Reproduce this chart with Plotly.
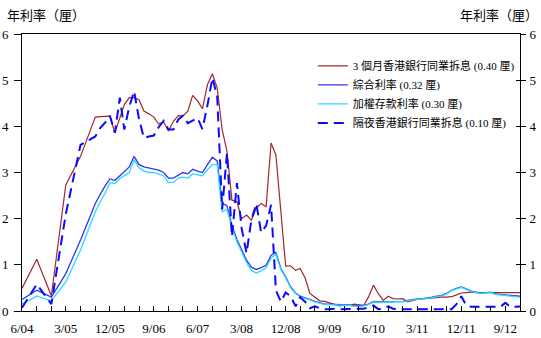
import pandas as pd
import plotly.graph_objects as go

# x positions: quarterly at the start, monthly from Sep 2005 to Dec 2012
early_dates = ["2004-06-01", "2004-09-01", "2004-12-01", "2005-03-01", "2005-06-01"]
monthly_dates = [d.strftime("%Y-%m-%d") for d in pd.date_range("2005-09-01", "2012-12-01", freq="MS")]
dates = early_dates + monthly_dates

hibor_3m = [0.49, 1.12, 0.33, 2.73, 3.35,
            4.20, 4.21, 4.22, 4.22, 3.86, 4.18, 4.47, 4.62, 4.62, 4.57,
            4.33, 4.27, 4.20, 4.05, 4.10, 3.90, 4.11, 4.23, 4.22, 4.33,
            4.67, 4.55, 4.38, 4.90, 5.14, 4.83, 3.93, 3.46, 2.40, 2.37,
            2.00, 2.08, 1.97, 2.23, 2.33, 2.26, 3.64, 3.38, 2.10, 0.97,
            0.98, 0.88, 0.92, 0.72, 0.38, 0.29, 0.22, 0.21, 0.18, 0.15,
            0.11, 0.12, 0.12, 0.15, 0.14, 0.12, 0.30, 0.56, 0.38, 0.23,
            0.32, 0.27, 0.26, 0.27, 0.20, 0.23, 0.25, 0.26, 0.27, 0.29,
            0.30, 0.30, 0.30, 0.31, 0.35, 0.39, 0.40, 0.41, 0.40, 0.40,
            0.40, 0.40, 0.40, 0.40, 0.40, 0.40, 0.40, 0.40]

composite = [0.25, 0.45, 0.30, 0.81, 1.54,
             2.33, 2.52, 2.71, 2.86, 2.83, 2.93, 3.02, 3.12, 3.35, 3.17,
             3.12, 3.10, 3.08, 3.05, 3.00, 2.88, 2.88, 2.95, 3.00, 2.97,
             3.07, 3.03, 3.00, 3.17, 3.33, 3.25, 2.33, 2.28, 1.85, 1.55,
             1.32, 1.10, 0.95, 0.90, 0.94, 0.99, 1.21, 1.27, 0.92, 0.74,
             0.52, 0.39, 0.32, 0.29, 0.25, 0.21, 0.18, 0.15, 0.15, 0.14,
             0.14, 0.13, 0.13, 0.11, 0.11, 0.12, 0.15, 0.20, 0.20, 0.20,
             0.20, 0.20, 0.21, 0.21, 0.23, 0.25, 0.26, 0.27, 0.28, 0.30,
             0.32, 0.34, 0.38, 0.45, 0.49, 0.52, 0.48, 0.43, 0.41, 0.39,
             0.40, 0.41, 0.37, 0.36, 0.35, 0.34, 0.33, 0.32]

weighted_deposit = [0.15, 0.32, 0.22, 0.63, 1.32,
                    2.15, 2.36, 2.55, 2.78, 2.76, 2.87, 2.93, 3.00, 3.28, 3.10,
                    3.03, 3.00, 3.00, 2.97, 2.93, 2.78, 2.79, 2.88, 2.90, 2.88,
                    2.97, 2.95, 2.93, 3.06, 3.17, 3.17, 2.15, 2.20, 1.80, 1.50,
                    1.28, 1.05, 0.88, 0.82, 0.87, 0.94, 1.14, 1.23, 0.90, 0.72,
                    0.50, 0.38, 0.31, 0.28, 0.24, 0.20, 0.17, 0.14, 0.14, 0.13,
                    0.13, 0.12, 0.12, 0.10, 0.10, 0.11, 0.14, 0.19, 0.19, 0.19,
                    0.19, 0.19, 0.20, 0.20, 0.22, 0.24, 0.25, 0.26, 0.27, 0.29,
                    0.31, 0.33, 0.37, 0.44, 0.48, 0.51, 0.47, 0.42, 0.40, 0.38,
                    0.39, 0.40, 0.36, 0.35, 0.34, 0.33, 0.31, 0.30]

hibor_overnight = [0.07, 0.58, 0.15, 2.10, 3.60,
                   3.78, 3.96, 4.08, 4.23, 3.86, 4.62, 3.93, 4.43, 4.76, 4.15,
                   3.75, 3.78, 3.80, 3.98, 4.12, 3.93, 3.93, 4.15, 4.23, 4.07,
                   4.12, 4.18, 3.94, 4.45, 5.05, 4.65, 2.20, 3.42, 1.61, 2.77,
                   1.80, 1.25, 1.97, 2.33, 1.70, 1.85, 2.30, 0.45, 0.20, 0.40,
                   0.32, 0.10, 0.30, 0.20, 0.06, 0.10, 0.06, 0.04, 0.04, 0.05,
                   0.04, 0.04, 0.04, 0.04, 0.04, 0.05, 0.08, 0.12, 0.04, 0.05,
                   0.10, 0.05, 0.04, 0.04, 0.04, 0.04, 0.04, 0.04, 0.04, 0.04,
                   0.04, 0.04, 0.04, 0.04, 0.15, 0.32, 0.12, 0.09, 0.09, 0.09,
                   0.09, 0.09, 0.09, 0.09, 0.18, 0.09, 0.09, 0.10]

series_names = ["3 個月香港銀行同業拆息 (0.40 厘)", "綜合利率 (0.32 厘)",
                "加權存款利率 (0.30 厘)", "隔夜香港銀行同業拆息 (0.10 厘)"]

tick_dates = ["2004-06-01", "2005-03-01", "2005-12-01", "2006-09-01", "2007-06-01", "2008-03-01",
              "2008-12-01", "2009-09-01", "2010-06-01", "2011-03-01", "2011-12-01", "2012-09-01"]
tick_labels = ["6/04", "3/05", "12/05", "9/06", "6/07", "3/08",
               "12/08", "9/09", "6/10", "3/11", "12/11", "9/12"]
y_ticks = [0, 1, 2, 3, 4, 5, 6]
axis_title = "年利率（厘）"

fig = go.Figure()
fig.add_trace(go.Scatter(x=dates, y=hibor_3m, name=series_names[0], mode="lines",
                         line=dict(color="#A02830", width=1.2)))
fig.add_trace(go.Scatter(x=dates, y=composite, name=series_names[1], mode="lines",
                         line=dict(color="#3434F0", width=1.3)))
fig.add_trace(go.Scatter(x=dates, y=weighted_deposit, name=series_names[2], mode="lines",
                         yaxis="y2", line=dict(color="#22DDFF", width=1.3)))
fig.add_trace(go.Scatter(x=dates, y=hibor_overnight, name=series_names[3], mode="lines",
                         yaxis="y3", line=dict(color="#0A0AFF", width=2, dash="10px,6px")))

tick_font = dict(family="Liberation Serif, Times New Roman, serif", size=13, color="#000000")
cjk = "Liberation Serif, Noto Sans CJK TC, serif"

fig.update_layout(
    width=541, height=338, autosize=False,
    margin=dict(l=22, r=21, t=34, b=27, pad=0, autoexpand=False),
    paper_bgcolor="white", plot_bgcolor="white",
    showlegend=True,
    legend=dict(x=0.584, y=0.937, xanchor="left", yanchor="top",
                bgcolor="rgba(0,0,0,0)", borderwidth=0,
                font=dict(family=cjk, size=11, color="#000000"),
                itemwidth=30, tracegroupgap=0),
    xaxis=dict(type="date", range=["2004-06-01", "2012-12-01"],
               tickvals=tick_dates, ticktext=tick_labels,
               ticks="inside", ticklen=5, tickcolor="black", tickwidth=1,
               minor=dict(ticks="inside", ticklen=5, dtick="M3", tick0="2004-06-01",
                          tickcolor="black", tickwidth=1, showgrid=False),
               showline=True, linecolor="black", linewidth=1, mirror=True,
               showgrid=False, zeroline=False, tickfont=tick_font,
               ticklabelstandoff=5, automargin=False, ticklabeloverflow="allow"),
    yaxis=dict(range=[0, 6], tickvals=y_ticks, ticks="outside", ticklen=7,
               tickcolor="black", showline=True, linecolor="black", linewidth=1,
               showgrid=False, zeroline=False, tickfont=tick_font, ticklabelstandoff=3,
               automargin=False, ticklabeloverflow="allow"),
    yaxis2=dict(range=[0, 6], tickvals=y_ticks, overlaying="y", side="right", anchor="x",
                ticks="outside", ticklen=5, tickcolor="black", showline=True,
                linecolor="black", linewidth=1, showgrid=False, zeroline=False,
                tickfont=tick_font, ticklabelstandoff=1, automargin=False,
                ticklabeloverflow="allow"),
    yaxis3=dict(range=[0, 6], tickvals=y_ticks, overlaying="y", side="right", anchor="x",
                ticks="inside", ticklen=4, tickcolor="black", showline=False,
                showticklabels=False, showgrid=False, zeroline=False, automargin=False),
    annotations=[
        dict(text=axis_title, xref="paper", yref="paper", x=-0.034, y=1.07,
             xanchor="left", yanchor="middle", showarrow=False,
             font=dict(family="Noto Sans CJK TC", size=13, color="#000000")),
        dict(text=axis_title, xref="paper", yref="paper", x=1.04, y=1.07,
             xanchor="right", yanchor="middle", showarrow=False,
             font=dict(family="Noto Sans CJK TC", size=13, color="#000000")),
    ],
)

fig.write_html("out.html", config={"displayModeBar": False},
               post_script="document.body.style.margin='0';")
